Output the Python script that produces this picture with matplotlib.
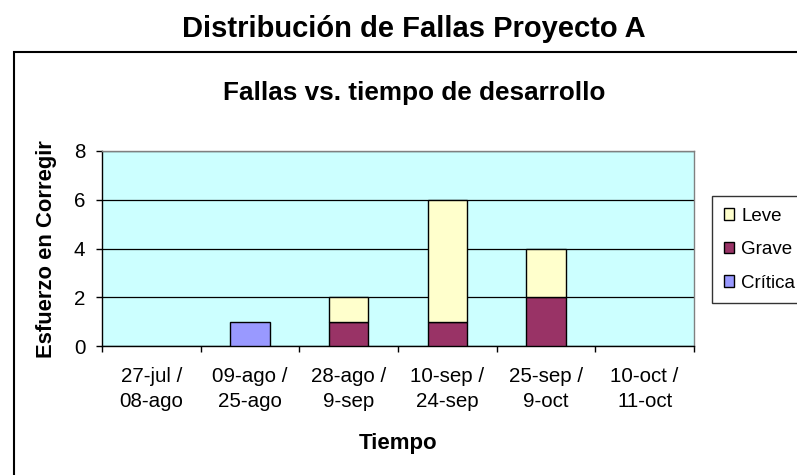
import matplotlib
matplotlib.use("Agg")
import matplotlib.pyplot as plt
from matplotlib.patches import Rectangle, Patch
import numpy as np

plt.rcParams['font.family'] = ['Liberation Sans', 'DejaVu Sans']

categories = ["27-jul /\n08-ago", "09-ago /\n25-ago", "28-ago /\n9-sep",
              "10-sep /\n24-sep", "25-sep /\n9-oct", "10-oct /\n11-oct"]
critica = [0, 1, 0, 0, 0, 0]
grave = [0, 0, 1, 1, 2, 0]
leve = [0, 0, 1, 5, 2, 0]

W, H = 797, 475
fig = plt.figure(figsize=(W / 100, H / 100), dpi=100)
fig.patch.set_facecolor('white')

# outer chart border (extends past right/bottom edge)
fig.patches.append(Rectangle((14 / W, -0.2), 1.2, 1 - 52 / H + 0.2,
                             transform=fig.transFigure, fill=False,
                             edgecolor='black', linewidth=1.5, zorder=0))

fig.text(414 / W, 1 - 29 / H, "Distribución de Fallas Proyecto A",
         ha='center', va='center', fontsize=21, fontweight='bold')
fig.text(414 / W, 1 - 93 / H, "Fallas vs. tiempo de desarrollo",
         ha='center', va='center', fontsize=18.8, fontweight='bold')

ax = fig.add_axes([102 / W, 1 - 346 / H, (694 - 102) / W, (346 - 151) / H])
ax.set_facecolor('#CCFFFF')

x = np.arange(len(categories))
bw = 0.4


def edges(vals):
    return ['black' if v else 'none' for v in vals]


ax.bar(x, critica, bw, color='#9999FF', edgecolor=edges(critica), linewidth=1, zorder=3)
ax.bar(x, grave, bw, bottom=critica, color='#993366', edgecolor=edges(grave), linewidth=1, zorder=3)
bottom2 = np.array(critica) + np.array(grave)
ax.bar(x, leve, bw, bottom=bottom2, color='#FFFFCC', edgecolor=edges(leve), linewidth=1, zorder=3)

ax.set_xlim(-0.5, len(categories) - 0.5)
ax.set_ylim(0, 8)
ax.set_yticks([0, 2, 4, 6, 8])
ax.yaxis.grid(True, color='black', linewidth=0.9, zorder=1)
ax.set_axisbelow(True)

ax.set_xticks(np.arange(-0.5, len(categories)), labels=[''] * (len(categories) + 1))
ax.set_xticks(x, minor=True)
ax.set_xticklabels(categories, minor=True, fontsize=14.8, linespacing=1.42)
ax.tick_params(axis='x', which='major', direction='out', length=4, width=1, color='black')
ax.tick_params(axis='x', which='minor', length=0, pad=15)
ax.tick_params(axis='y', direction='out', length=4, width=1, labelsize=14.8, pad=8)

for s in ['top', 'right']:
    ax.spines[s].set_color('#808080')
    ax.spines[s].set_linewidth(1)
for s in ['left', 'bottom']:
    ax.spines[s].set_color('black')
    ax.spines[s].set_linewidth(1)

fig.text(398 / W, 1 - 443 / H, "Tiempo", ha='center', va='center',
         fontsize=16, fontweight='bold')
fig.text(47 / W, 1 - 249 / H, "Esfuerzo en Corregir", ha='center', va='center',
         rotation=90, fontsize=15.8, fontweight='bold')

handles = [Patch(facecolor='#FFFFCC', edgecolor='black', linewidth=1),
           Patch(facecolor='#993366', edgecolor='black', linewidth=1),
           Patch(facecolor='#9999FF', edgecolor='black', linewidth=1)]
leg = fig.legend(handles, ['Leve', 'Grave', 'Crítica'], loc='upper left',
                 bbox_to_anchor=(712 / W, 1 - 196 / H), fontsize=13.5,
                 frameon=True, fancybox=False, edgecolor='black',
                 handlelength=0.55, handleheight=0.55, handletextpad=0.4,
                 labelspacing=0.88, borderpad=0.62, borderaxespad=0)
leg.get_frame().set_linewidth(1)

fig.savefig("out.png", dpi=100)
